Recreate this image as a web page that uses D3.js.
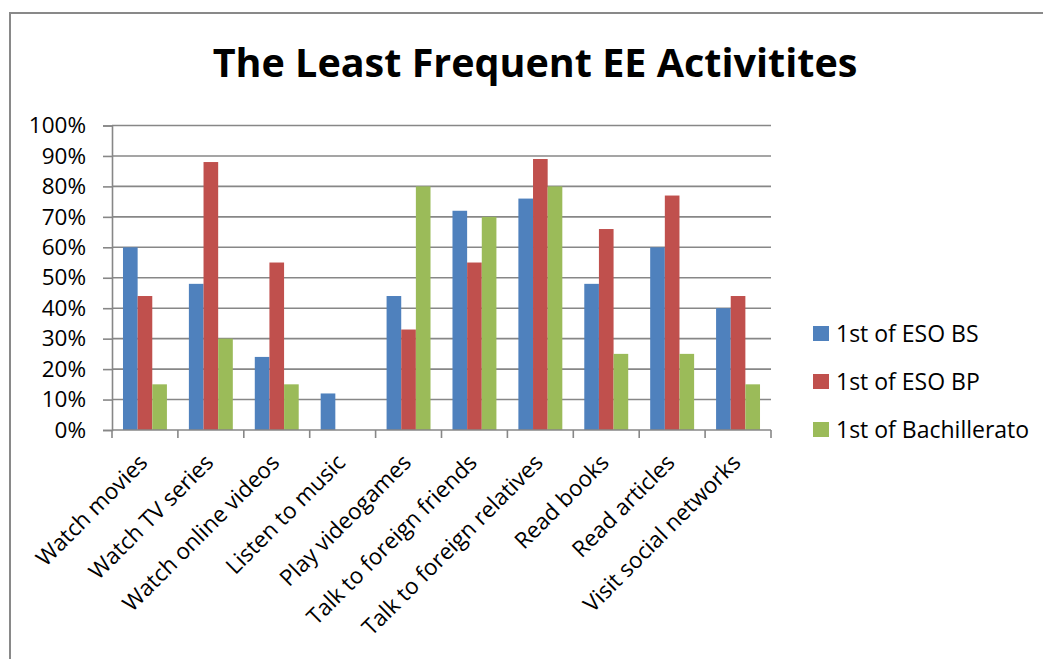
<!DOCTYPE html>
<html>
<head>
<meta charset="utf-8">
<script src="https://cdn.jsdelivr.net/npm/d3@7"></script>
<style>
  html, body { margin: 0; padding: 0; background: #fff; }
  svg { display: block; }
  text { font-family: "Open Sans", Lato, sans-serif; fill: #000; }
</style>
</head>
<body>
<svg id="chart" width="1043" height="659"></svg>
<script>
// Activities and the share of students reporting each one as least frequent
const categories = [
  "Watch movies", "Watch TV series", "Watch online videos", "Listen to music",
  "Play videogames", "Talk to foreign friends", "Talk to foreign relatives",
  "Read books", "Read articles", "Visit social networks"
];
const seriesNames = ["1st of ESO BS", "1st of ESO BP", "1st of Bachillerato"];
const esoBS  = [0.60, 0.48, 0.24, 0.12, 0.44, 0.72, 0.76, 0.48, 0.60, 0.40];
const esoBP  = [0.44, 0.88, 0.55, 0.00, 0.33, 0.55, 0.89, 0.66, 0.77, 0.44];
const bach   = [0.15, 0.30, 0.15, 0.00, 0.80, 0.70, 0.80, 0.25, 0.25, 0.15];
const yTicks = [0, 0.1, 0.2, 0.3, 0.4, 0.5, 0.6, 0.7, 0.8, 0.9, 1.0];
const colors = ["#4F81BD", "#C0504D", "#9BBB59"];
const title = "The Least Frequent EE Activitites";

const seriesValues = [esoBS, esoBP, bach];

const svg = d3.select("#chart");

// outer chart frame
svg.append("rect")
  .attr("x", 10).attr("y", 13)
  .attr("width", 1100).attr("height", 700)
  .attr("fill", "none").attr("stroke", "#898989").attr("stroke-width", 2);

// title
svg.append("text")
  .attr("x", 535).attr("y", 77)
  .attr("text-anchor", "middle")
  .style("font-size", "39.5px").style("font-weight", "700")
  .text(title);

const plot = { left: 112, right: 771, top: 125.5, bottom: 430 };

const x0 = d3.scaleBand()
  .domain(categories)
  .range([plot.left, plot.right])
  .paddingInner(0).paddingOuter(0);

// inner band: gap width of 150% of a bar on the outside of each group
const x1 = d3.scaleBand()
  .domain(d3.range(seriesNames.length))
  .range([0, x0.bandwidth()])
  .paddingInner(0)
  .paddingOuter(0.75);

const y = d3.scaleLinear().domain([0, 1]).range([plot.bottom, plot.top]);

// horizontal gridlines
svg.append("g")
  .selectAll("line")
  .data(yTicks.filter(d => d > 0))
  .join("line")
  .attr("x1", plot.left).attr("x2", plot.right)
  .attr("y1", d => y(d)).attr("y2", d => y(d))
  .attr("stroke", "#878787").attr("stroke-width", 1.6);

// bars
const groups = svg.append("g")
  .selectAll("g")
  .data(categories)
  .join("g")
  .attr("transform", d => `translate(${x0(d)},0)`);

groups.selectAll("rect")
  .data((d, i) => seriesValues.map((s, k) => ({ k, v: s[i] })))
  .join("rect")
  .attr("x", d => x1(d.k))
  .attr("width", x1.bandwidth())
  .attr("y", d => y(d.v))
  .attr("height", d => plot.bottom - y(d.v))
  .attr("fill", d => colors[d.k]);

// y axis
const yAxis = d3.axisLeft(y)
  .tickValues(yTicks)
  .tickFormat(d3.format(".0%"))
  .tickSize(9)
  .tickPadding(17);

const gy = svg.append("g")
  .attr("transform", `translate(${plot.left},0)`)
  .call(yAxis);
gy.select(".domain").attr("stroke", "#878787").attr("stroke-width", 1.6);
gy.selectAll(".tick line").attr("stroke", "#878787").attr("stroke-width", 1.6);
gy.selectAll(".tick text")
  .style("font-size", "22.5px")
  .style("font-family", "'Open Sans', sans-serif")
  .attr("fill", "#000");

// x axis: category separators
const tickPositions = d3.range(categories.length + 1).map(i => plot.left + i * x0.step());
svg.append("line")
  .attr("x1", plot.left).attr("x2", plot.right)
  .attr("y1", plot.bottom).attr("y2", plot.bottom)
  .attr("stroke", "#878787").attr("stroke-width", 1.6);
svg.append("g")
  .selectAll("line")
  .data(tickPositions)
  .join("line")
  .attr("x1", d => d).attr("x2", d => d)
  .attr("y1", plot.bottom).attr("y2", plot.bottom + 8)
  .attr("stroke", "#878787").attr("stroke-width", 1.6);

// rotated category labels
svg.append("g")
  .selectAll("text")
  .data(categories)
  .join("text")
  .attr("text-anchor", "end")
  .attr("transform", d => {
    const cx = x0(d) + x0.bandwidth() / 2 + 4;
    return `translate(${cx},${plot.bottom + 34}) rotate(-45)`;
  })
  .style("font-size", "22.5px")
  .text(d => d);

// legend
const legend = svg.append("g")
  .selectAll("g")
  .data(seriesNames)
  .join("g")
  .attr("transform", (d, i) => `translate(813,${326 + i * 48})`);
legend.append("rect")
  .attr("width", 16).attr("height", 15)
  .attr("fill", (d, i) => colors[i]);
legend.append("text")
  .attr("x", 23).attr("y", 16)
  .style("font-size", "23px")
  .text(d => d);
</script>
</body>
</html>
